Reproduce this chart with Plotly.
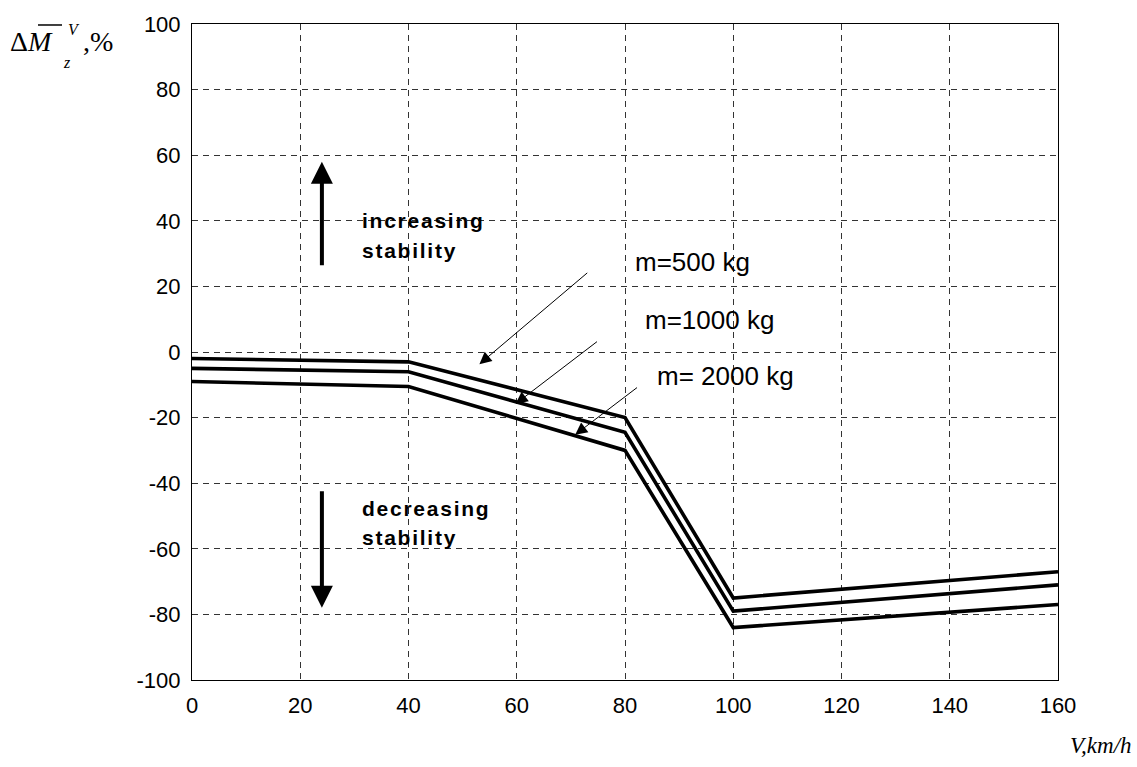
import plotly.graph_objects as go

# ---- data ----
speed_kmh = [0, 40, 80, 100, 160]
m500 = [-2, -3, -20, -75, -67]
m1000 = [-5, -6, -24.5, -79, -71]
m2000 = [-9, -10.5, -30, -84, -77]

x_ticks = [0, 20, 40, 60, 80, 100, 120, 140, 160]
y_ticks = [-100, -80, -60, -40, -20, 0, 20, 40, 60, 80, 100]

series_labels = ["m=500 kg", "m=1000 kg", "m= 2000 kg"]
# label anchor (data coords), arrow tail, arrow tip
label_pos = [(81.4, 27.5), (83.3, 9.9), (85.6, -7.2)]
arrow_tail = [(73.3, 24.5), (75.1, 3.5), (82.5, -10.5)]
arrow_tip = [(53.1, -3.7), (59.8, -15.8), (70.8, -25.2)]

W, H = 1137, 767
L, R, T, B = 192, 79, 19, 87
PW, PH = W - L - R, H - T - B

def px(xp):
    return (xp - L) / PW

def py(yp):
    return (H - B - yp) / PH

fig = go.Figure()
for ys in (m500, m1000, m2000):
    fig.add_trace(go.Scatter(x=speed_kmh, y=ys, mode="lines",
                             line=dict(color="black", width=3.6),
                             showlegend=False, hoverinfo="skip"))

sans = "Liberation Sans, Arial, sans-serif"
serif = "Liberation Serif, Times New Roman, serif"
hs = "\u200a"

ann = []
for lab, (lx, ly), (tx, ty), (hx, hy) in zip(series_labels, label_pos, arrow_tail, arrow_tip):
    ann.append(dict(x=lx, y=ly, xref="x", yref="y", text=lab, showarrow=False,
                    xanchor="left", yanchor="middle",
                    font=dict(family=sans, size=26, color="black")))
    ann.append(dict(x=hx, y=hy, xref="x", yref="y", ax=tx, ay=ty, axref="x", ayref="y",
                    text="", showarrow=True, arrowhead=2, arrowsize=2.4,
                    arrowwidth=1, arrowcolor="black", standoff=0))

def spaced(s):
    return hs.join(list(s))

for txt, yv in (("increasing", 40.2), ("stability", 30.8), ("decreasing", -47.8), ("stability", -56.6)):
    ann.append(dict(x=31, y=yv, xref="x", yref="y", text=spaced(txt), showarrow=False,
                    xanchor="left", yanchor="middle",
                    font=dict(family=sans, size=21, color="black", weight="bold")))

ann.append(dict(x=24, y=58, xref="x", yref="y", ax=24, ay=26, axref="x", ayref="y",
                text="", showarrow=True, arrowhead=2, arrowsize=1.1, arrowwidth=4,
                arrowcolor="black", standoff=0))
ann.append(dict(x=24, y=-78, xref="x", yref="y", ax=24, ay=-42, axref="x", ayref="y",
                text="", showarrow=True, arrowhead=2, arrowsize=1.1, arrowwidth=4,
                arrowcolor="black", standoff=0))

# y-axis label pieces
ann.append(dict(x=px(8), y=py(37), xref="paper", yref="paper", text="Δ<i>M</i>",
                showarrow=False, xanchor="left", yanchor="middle",
                font=dict(family=serif, size=28, color="black")))
ann.append(dict(x=px(74), y=py(25), xref="paper", yref="paper", text="<i>V</i>",
                showarrow=False, xanchor="center", yanchor="middle",
                font=dict(family=serif, size=16, color="black")))
ann.append(dict(x=px(67), y=py(58), xref="paper", yref="paper", text="<i>z</i>",
                showarrow=False, xanchor="center", yanchor="middle",
                font=dict(family=serif, size=16, color="black")))
ann.append(dict(x=px(81), y=py(37), xref="paper", yref="paper", text=",%",
                showarrow=False, xanchor="left", yanchor="middle",
                font=dict(family=serif, size=28, color="black")))
# x-axis label
ann.append(dict(x=px(1134), y=py(746), xref="paper", yref="paper", text="<i>V,km/h</i>",
                showarrow=False, xanchor="right", yanchor="middle",
                font=dict(family=serif, size=23, color="black")))

fig.update_layout(
    width=W, height=H,
    margin=dict(l=L, r=R, t=T, b=B, pad=0),
    paper_bgcolor="white", plot_bgcolor="white",
    annotations=ann,
    shapes=[dict(type="line", xref="paper", yref="paper",
                 x0=px(38), x1=px(62), y0=py(20), y1=py(20),
                 line=dict(color="black", width=1.5))],
    font=dict(family=sans, size=22, color="black"),
)
fig.update_xaxes(range=[0, 160], tickvals=x_ticks, ticktext=[str(v) for v in x_ticks],
                 showline=True, linecolor="black", linewidth=1, mirror=True,
                 showgrid=True, gridcolor="#333333", gridwidth=1, griddash="6px,5px",
                 zeroline=False, ticks="", ticklabelstandoff=6,
                 tickfont=dict(family=sans, size=22, color="black"))
fig.update_yaxes(range=[-100, 100], tickvals=y_ticks, ticktext=[str(v) for v in y_ticks],
                 showline=True, linecolor="black", linewidth=1, mirror=True,
                 showgrid=True, gridcolor="#333333", gridwidth=1, griddash="6px,5px",
                 zeroline=False, ticks="", ticklabelstandoff=6,
                 tickfont=dict(family=sans, size=22, color="black"))

fig.write_html("out.html")
